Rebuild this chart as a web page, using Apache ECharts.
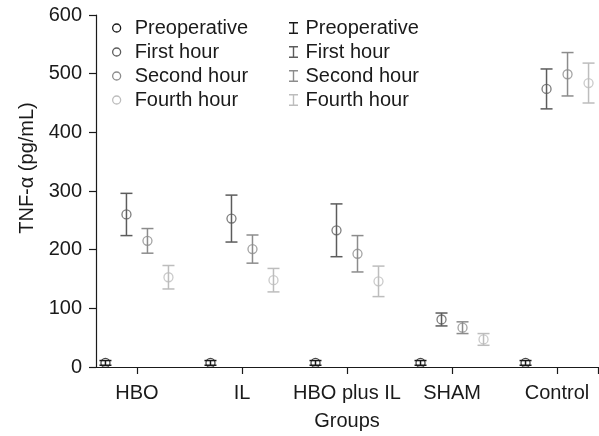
<!DOCTYPE html>
<html>
<head>
<meta charset="utf-8">
<script src="https://cdn.jsdelivr.net/npm/echarts@6/dist/echarts.min.js"></script>
<style>
  html, body { margin: 0; padding: 0; background: #fff; }
  #chart { width: 599px; height: 436px; }
</style>
</head>
<body>
<div id="chart"></div>
<script>
// 分组与时间点
var groups = ['HBO', 'IL', 'HBO plus IL', 'SHAM', 'Control'];
var times = ['Preoperative', 'First hour', 'Second hour', 'Fourth hour'];

// 均值 (pg/mL)
var preMean    = [7, 7, 7, 7, 7];
var firstMean  = [260, 253, 233, 81, 474];
var secondMean = [215, 201, 193, 67, 499];
var fourthMean = [153, 148, 146, 47, 484];

// 误差（±）
var preErr    = [4, 4, 4, 4, 4];
var firstErr  = [36, 40, 45, 11, 34];
var secondErr = [21, 24, 31, 10, 37];
var fourthErr = [20, 20, 26, 10, 34];

var yTicks = [0, 100, 200, 300, 400, 500, 600];

var means = [preMean, firstMean, secondMean, fourthMean];
var errs = [preErr, firstErr, secondErr, fourthErr];
var colors = ['#1a1a1a', '#5c5c5c', '#8c8c8c', '#bdbdbd'];
var offsets = [-0.3, -0.1, 0.1, 0.3];
var FONT = 'Liberation Sans';
var iBeam = 'path://M0,0L9,0L9,1.4L5.2,1.4L5.2,10.6L9,10.6L9,12L0,12L0,10.6L3.8,10.6L3.8,1.4L0,1.4Z';

var myChart = echarts.init(document.getElementById('chart'));

function errorBar(color) {
    return function (params, api) {
        var x = api.value(0);
        var top = api.coord([x, api.value(2)]);
        var bot = api.coord([x, api.value(1)]);
        var w = 6;
        var st = { stroke: color, lineWidth: 1.5, fill: null };
        return {
            type: 'group',
            children: [
                { type: 'line', shape: { x1: top[0], y1: top[1], x2: bot[0], y2: bot[1] }, style: st },
                { type: 'line', shape: { x1: top[0] - w, y1: top[1], x2: top[0] + w, y2: top[1] }, style: st },
                { type: 'line', shape: { x1: bot[0] - w, y1: bot[1], x2: bot[0] + w, y2: bot[1] }, style: st }
            ]
        };
    };
}

var series = [];
for (var t = 0; t < times.length; t++) {
    var pts = [], bars = [];
    for (var g = 0; g < groups.length; g++) {
        var x = g + offsets[t];
        pts.push([x, means[t][g]]);
        bars.push([x, means[t][g] - errs[t][g], means[t][g] + errs[t][g]]);
    }
    series.push({
        name: times[t],
        type: 'custom',
        renderItem: errorBar(colors[t]),
        itemStyle: { color: colors[t] },
        encode: { x: 0, y: [1, 2] },
        data: bars,
        z: 2
    });
    series.push({
        name: times[t],
        type: 'scatter',
        symbol: 'circle',
        symbolSize: 9,
        itemStyle: { color: 'rgba(0,0,0,0)', borderColor: colors[t], borderWidth: 1.3 },
        data: pts,
        z: 3
    });
}

var legendCircle = [], legendBar = [];
for (var k = 0; k < times.length; k++) {
    legendCircle.push({
        name: times[k], icon: 'circle',
        itemStyle: { color: '#fff', borderColor: colors[k], borderWidth: 1.3 }
    });
    legendBar.push({
        name: times[k], icon: iBeam,
        itemStyle: { color: colors[k], borderWidth: 0 }
    });
}

var option = {
    animation: false,
    backgroundColor: '#fff',
    textStyle: { fontFamily: FONT },
    grid: { left: 96, right: 1, top: 15, bottom: 69 },
    legend: [{
        orient: 'vertical', left: 112, top: 18, padding: 0,
        itemWidth: 26, itemHeight: 8, itemGap: 4,
        textStyle: { fontFamily: FONT, fontSize: 20, color: '#1a1a1a' },
        data: legendCircle
    }, {
        orient: 'vertical', left: 289, top: 18, padding: 0,
        itemWidth: 14, itemHeight: 12, itemGap: 4,
        textStyle: { fontFamily: FONT, fontSize: 20, color: '#1a1a1a' },
        data: legendBar
    }],
    xAxis: {
        type: 'value',
        min: -0.39,
        max: 4.39,
        name: 'Groups',
        nameLocation: 'middle',
        nameGap: 44,
        nameTextStyle: { fontFamily: FONT, fontSize: 20, color: '#1a1a1a' },
        splitLine: { show: false },
        axisLine: { show: true, onZero: false, lineStyle: { color: '#1a1a1a', width: 1.2 } },
        axisTick: { show: true, length: 7, lineStyle: { color: '#1a1a1a', width: 1.2 },
            customValues: [0, 1, 2, 3, 4, 4.39] },
        axisLabel: {
            customValues: [0, 1, 2, 3, 4],
            margin: 16,
            fontFamily: FONT, fontSize: 20, color: '#1a1a1a',
            formatter: function (v) { return groups[Math.round(v)]; }
        }
    },
    yAxis: {
        type: 'value',
        min: 0,
        max: 600,
        interval: 100,
        name: 'TNF-α (pg/mL)',
        nameLocation: 'middle',
        nameGap: 59,
        nameTextStyle: { fontFamily: FONT, fontSize: 20, color: '#1a1a1a', padding: [0, 0, 0, 46] },
        splitLine: { show: false },
        axisLine: { show: true, onZero: false, lineStyle: { color: '#1a1a1a', width: 1.2 } },
        axisTick: { show: true, length: 7, lineStyle: { color: '#1a1a1a', width: 1.2 } },
        axisLabel: {
            margin: 14,
            fontFamily: FONT, fontSize: 20, color: '#1a1a1a',
            formatter: function (v) { return yTicks.indexOf(v) >= 0 ? String(v) : ''; }
        }
    },
    series: series
};

myChart.setOption(option);
</script>
</body>
</html>
